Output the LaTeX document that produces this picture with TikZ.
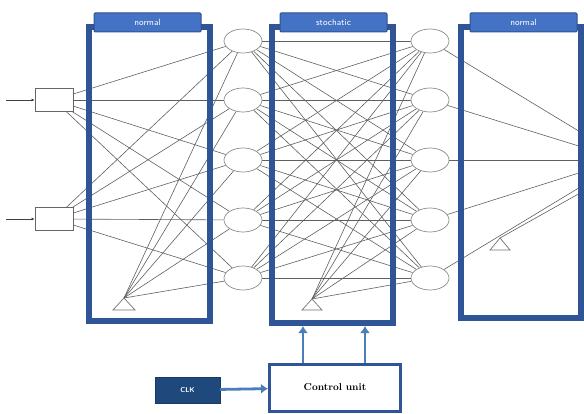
\documentclass[tikz,border=0pt]{standalone}
\usetikzlibrary{shapes.geometric,arrows.meta}
\definecolor{frameblue}{RGB}{47,85,151}
\definecolor{headblue}{RGB}{68,114,196}
\definecolor{headedge}{RGB}{47,82,143}
\definecolor{clkblue}{RGB}{31,73,125}
\definecolor{arrblue}{RGB}{74,126,187}
\definecolor{wire}{RGB}{95,95,95}
\pgfdeclarelayer{bg}
\pgfsetlayers{bg,main}
\tikzset{
  neuron/.style={ellipse,draw=black!45,fill=white,line width=0.7pt,minimum width=38pt,minimum height=24pt,inner sep=0pt},
  inbox/.style={rectangle,draw=black!60,fill=white,line width=0.7pt,minimum width=38pt,minimum height=23pt,inner sep=0pt},
  frame/.style={draw=frameblue,line width=6pt},
  header/.style={rectangle,rounded corners=1pt,draw=headedge,fill=headblue,line width=1pt,minimum width=107pt,minimum height=19pt,inner sep=0pt,text=white,font=\fontsize{9}{10}\selectfont\sffamily},
  wireline/.style={draw=wire,line width=0.6pt},
  biastri/.style={draw=black!55,line width=0.7pt,fill=white},
  bluearrow/.style={draw=arrblue,line width=2.8pt,-{Latex[length=7pt,width=10pt]}},
}
\begin{document}
\begin{tikzpicture}[x=1pt,y=-1pt]
\useasboundingbox (0,0) rectangle (584,414);
% input boxes
\node[inbox] (b1) at (54,100) {};
\node[inbox] (b2) at (54,219) {};
\coordinate (in1) at (6,100);
\coordinate (in2) at (6,219);
% neurons
\foreach \i/\y in {1/41,2/100,3/160,4/220,5/278}{
  \node[neuron] (a\i) at (243,\y) {};
  \node[neuron] (s\i) at (430,\y) {};
}
% bias apexes
\coordinate (t1) at (124,298);
\coordinate (t2) at (312,299);
\coordinate (t3) at (500,238);
% output points
\coordinate (o1) at (582,133);
\coordinate (o2) at (582,147);
\coordinate (o3) at (582,160);
\coordinate (o4) at (582,172);
\coordinate (o5) at (582,186);
\coordinate (o6) at (582,192);
\begin{pgfonlayer}{bg}
  \foreach \i in {1,...,5}{
    \draw[wireline] (b1) -- (a\i);
    \draw[wireline] (b2) -- (a\i);
    \draw[wireline] (t1) -- (a\i);
    \draw[wireline] (t2) -- (s\i);
    \foreach \j in {1,...,5}{
      \draw[wireline] (a\i) -- (s\j);
    }
    \draw[wireline] (s\i) -- (o\i);
  }
  \draw[wireline] (t3) -- (o6);
\end{pgfonlayer}
\draw[black!75,line width=0.7pt,-{Latex[length=3pt,width=3pt]}] (in1) -- (b1);
\draw[black!75,line width=0.7pt,-{Latex[length=3pt,width=3pt]}] (in2) -- (b2);
% bias triangles
\draw[biastri] (t1) -- ++(-11,12) -- ++(22,0) -- cycle;
\draw[biastri] (t2) -- ++(-10,11) -- ++(20,0) -- cycle;
\draw[biastri] (t3) -- ++(-10,12) -- ++(20,0) -- cycle;
% frames
\draw[frame] (89,27) rectangle (210,321);
\draw[frame] (272,27) rectangle (393,323);
\draw[frame] (461,27) rectangle (581,318);
% headers
\node[header] (h1) at (147.5,22.5) {normal};
\node[header] (h2) at (333.5,22.5) {stochatic};
\node[header] (h3) at (523.5,22.5) {normal};
% control
\node[draw=frameblue,line width=3pt,fill=white,minimum width=131pt,minimum height=47pt,inner sep=0pt,font=\bfseries\fontsize{10}{12}\selectfont] (cu) at (335,387.5) {Control unit};
\node[fill=clkblue,draw=clkblue!80!black,minimum width=65pt,minimum height=26pt,inner sep=0pt,text=white,font=\fontsize{7}{8}\selectfont\sffamily\bfseries] (clk) at (187.5,390) {CLK};
\draw[bluearrow] (clk) -- (cu);
\coordinate (u1) at (303,326);
\coordinate (u2) at (365,326);
\draw[bluearrow] (cu.north -| u1) -- (u1);
\draw[bluearrow] (cu.north -| u2) -- (u2);
\end{tikzpicture}
\end{document}
